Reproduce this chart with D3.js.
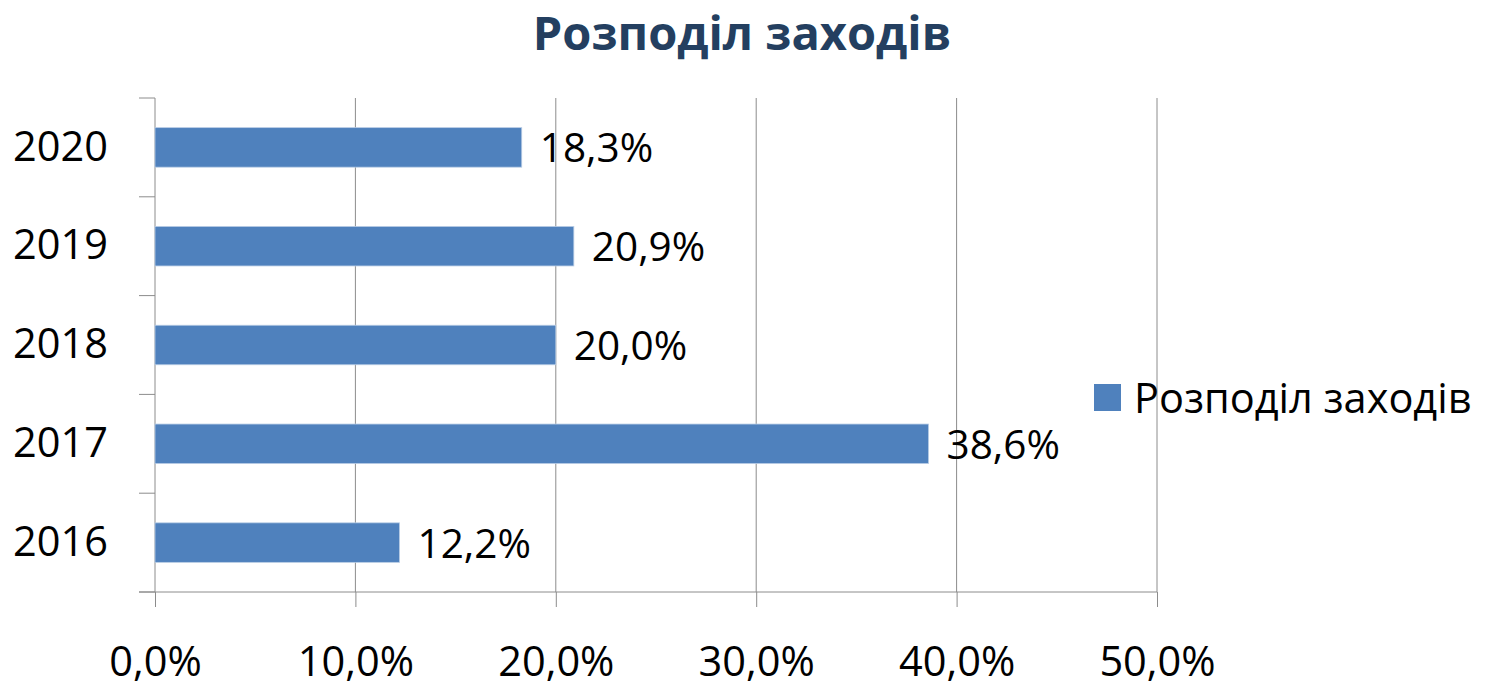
<!DOCTYPE html>
<html>
<head>
<meta charset="utf-8">
<script src="https://cdn.jsdelivr.net/npm/d3@7"></script>
<style>
  body { margin: 0; background: #fff; }
  text { font-family: "Open Sans", sans-serif; }
</style>
</head>
<body>
<script>
(function () {
  'use strict';

  const years = ['2016', '2017', '2018', '2019', '2020'];
  const values = [12.2, 38.6, 20.0, 20.9, 18.3];
  const xTicks = [0, 10, 20, 30, 40, 50];
  const seriesName = 'Розподіл заходів';
  const title = 'Розподіл заходів';

  const W = 1485, H = 691;
  const plot = { left: 155, right: 1157, top: 98, bottom: 592 };

  const fmt = v => d3.format('.1f')(v).replace('.', ',') + '%';

  const svg = d3.select('body').append('svg')
    .attr('width', W)
    .attr('height', H);

  const x = d3.scaleLinear()
    .domain([0, 50])
    .range([plot.left, plot.right]);

  const y = d3.scaleBand()
    .domain(years.slice().reverse())
    .range([plot.top, plot.bottom])
    .paddingInner(0.6)
    .paddingOuter(0.3);

  // gridlines
  svg.append('g')
    .selectAll('line')
    .data(xTicks.slice(1))
    .enter()
    .append('line')
    .attr('x1', d => x(d)).attr('x2', d => x(d))
    .attr('y1', plot.top).attr('y2', plot.bottom)
    .attr('stroke', '#8c8c8c')
    .attr('stroke-width', 1);

  // x axis
  const xAxis = d3.axisBottom(x)
    .tickValues(xTicks)
    .tickSize(15)
    .tickPadding(40)
    .tickFormat(fmt);

  const gx = svg.append('g')
    .attr('transform', `translate(0,${plot.bottom})`)
    .call(xAxis);
  gx.select('.domain').remove();
  gx.selectAll('line').attr('stroke', '#8c8c8c');
  gx.selectAll('text')
    .attr('font-size', 41.5)
    .attr('fill', '#000');
  gx.append('line')
    .attr('x1', plot.left - 16).attr('x2', plot.right)
    .attr('y1', 0).attr('y2', 0)
    .attr('stroke', '#8c8c8c');

  // y axis
  const yAxis = d3.axisLeft(y)
    .tickSize(0)
    .tickPadding(47);

  const gy = svg.append('g')
    .attr('transform', `translate(${plot.left},0)`)
    .call(yAxis);
  gy.select('.domain').remove();
  gy.selectAll('text')
    .attr('font-size', 41.5)
    .attr('fill', '#000');
  gy.append('line')
    .attr('x1', 0).attr('x2', 0)
    .attr('y1', plot.top).attr('y2', plot.bottom)
    .attr('stroke', '#8c8c8c');

  // category boundary ticks
  const bounds = d3.range(years.length + 1).map(i => plot.top + i * (plot.bottom - plot.top) / years.length);
  gy.selectAll('.bt')
    .data(bounds)
    .enter()
    .append('line')
    .attr('class', 'bt')
    .attr('x1', -16).attr('x2', 0)
    .attr('y1', d => d).attr('y2', d => d)
    .attr('stroke', '#8c8c8c');

  // bars
  svg.append('g').selectAll('rect')
    .data(values)
    .enter()
    .append('rect')
    .attr('x', x(0))
    .attr('y', (d, i) => y(years[i]))
    .attr('width', d => x(d) - x(0))
    .attr('height', y.bandwidth())
    .attr('fill', '#4f81bd')
    .attr('stroke', '#b9cde5')
    .attr('stroke-width', 0.8);

  // data labels
  svg.append('g').selectAll('text')
    .data(values)
    .enter()
    .append('text')
    .attr('x', d => x(d) + 18)
    .attr('y', (d, i) => y(years[i]) + y.bandwidth() / 2)
    .attr('dy', '0.37em')
    .attr('font-size', 40.5)
    .attr('fill', '#000')
    .text(d => fmt(d));

  // title
  svg.append('text')
    .attr('x', 742)
    .attr('y', 50)
    .attr('text-anchor', 'middle')
    .attr('font-size', 47)
    .attr('font-weight', 'bold')
    .attr('fill', '#243f60')
    .text(title);

  // legend
  const lg = svg.append('g').attr('transform', 'translate(1094,384)');
  lg.append('rect')
    .attr('width', 27).attr('height', 27)
    .attr('fill', '#4f81bd');
  lg.append('text')
    .attr('x', 40)
    .attr('y', 13.5)
    .attr('dy', '0.37em')
    .attr('font-size', 41.5)
    .attr('fill', '#000')
    .text(seriesName);

})();
</script>
</body>
</html>
